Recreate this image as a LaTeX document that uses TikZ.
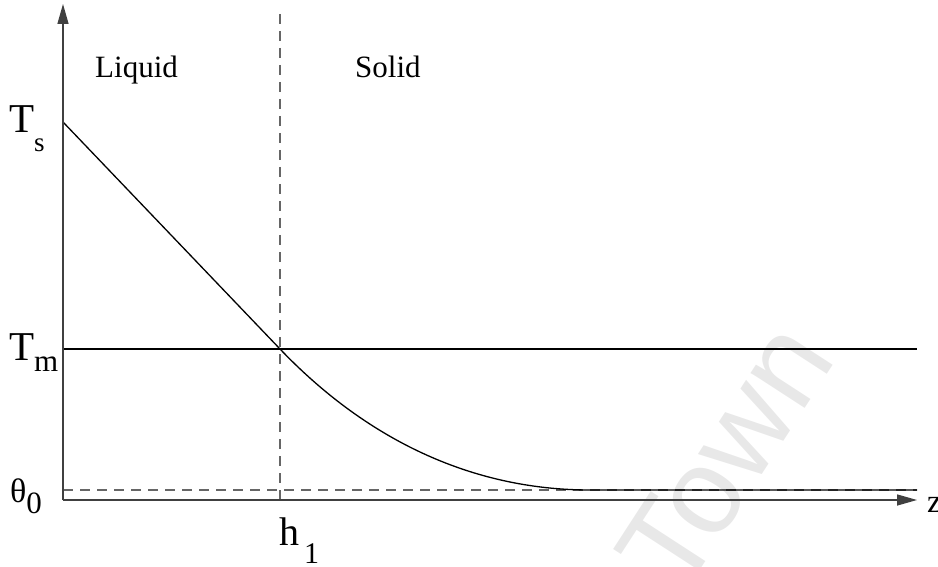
\documentclass[tikz,border=0pt]{standalone}
\usepackage{fontspec}
\setmainfont{Liberation Serif}
\newfontfamily\wmfont{Liberation Sans}
\usetikzlibrary{arrows.meta}
\tikzset{
  axis/.style={draw=black!75, line width=1.5pt, -{Triangle[length=20pt,width=11pt]}},
  solidline/.style={draw=black, line width=1.3pt},
  dashline/.style={draw=black!60, line width=1.4pt, dash pattern=on 10pt off 7pt},
  lbl/.style={inner sep=0pt, anchor=base west},
  wm/.style={inner sep=0pt, anchor=base west, text=black!9, font=\wmfont\fontsize{122}{122}\selectfont, rotate=57}
}
\begin{document}
\begin{tikzpicture}[x=1pt,y=-1pt]
\useasboundingbox (0,0) rectangle (938,567);
% watermark
\node[wm] (wmark) at (682,598) {Town};
% points
\coordinate (O) at (63,500);
\coordinate (Ytop) at (63,4);
\coordinate (Xend) at (917,500);
\coordinate (TsP) at (63,122);
\coordinate (H) at (280,349);
\coordinate (TmL) at (63,349);
\coordinate (TmR) at (917,349);
\coordinate (ThL) at (63,490);
\coordinate (ThR) at (917,490);
\coordinate (Flat) at (590,490);
\coordinate (Vtop) at (280,14);
\coordinate (Vbot) at (280,500);
% dashed lines
\draw[dashline] (Vtop) -- (Vbot);
\draw[dashline] (ThL) -- (ThR);
% lines
\draw[solidline] (TmL) -- (TmR);
\draw[solidline] (TsP) -- (H);
\draw[solidline] (H) .. controls (365,438) and (470,490) .. (Flat) -- (ThR);
% axes
\draw[axis] (O) -- (Ytop);
\draw[axis] (O) -- (Xend);
% labels
\node[lbl, font=\fontsize{31}{31}\selectfont] (liq) at (95,78) {Liquid};
\node[lbl, font=\fontsize{31}{31}\selectfont] (sol) at (355,78) {Solid};
\node[lbl, font=\fontsize{41}{41}\selectfont] (Ts) at (9,133) {T\raisebox{-19pt}{\fontsize{27}{27}\selectfont s}};
\node[lbl, font=\fontsize{41}{41}\selectfont] (Tm) at (9,360) {T\raisebox{-11pt}{\fontsize{31}{31}\selectfont m}};
\node[lbl, font=\fontsize{34}{34}\selectfont] (th) at (10,502) {θ\raisebox{-11pt}{\fontsize{31}{31}\selectfont 0}};
\node[lbl, font=\fontsize{40}{40}\selectfont] (h1) at (279,545) {h\hspace{5pt}\raisebox{-18pt}{\fontsize{30}{30}\selectfont 1}};
\node[lbl, font=\fontsize{33}{33}\selectfont] (z) at (927,512) {z};
\end{tikzpicture}
\end{document}
